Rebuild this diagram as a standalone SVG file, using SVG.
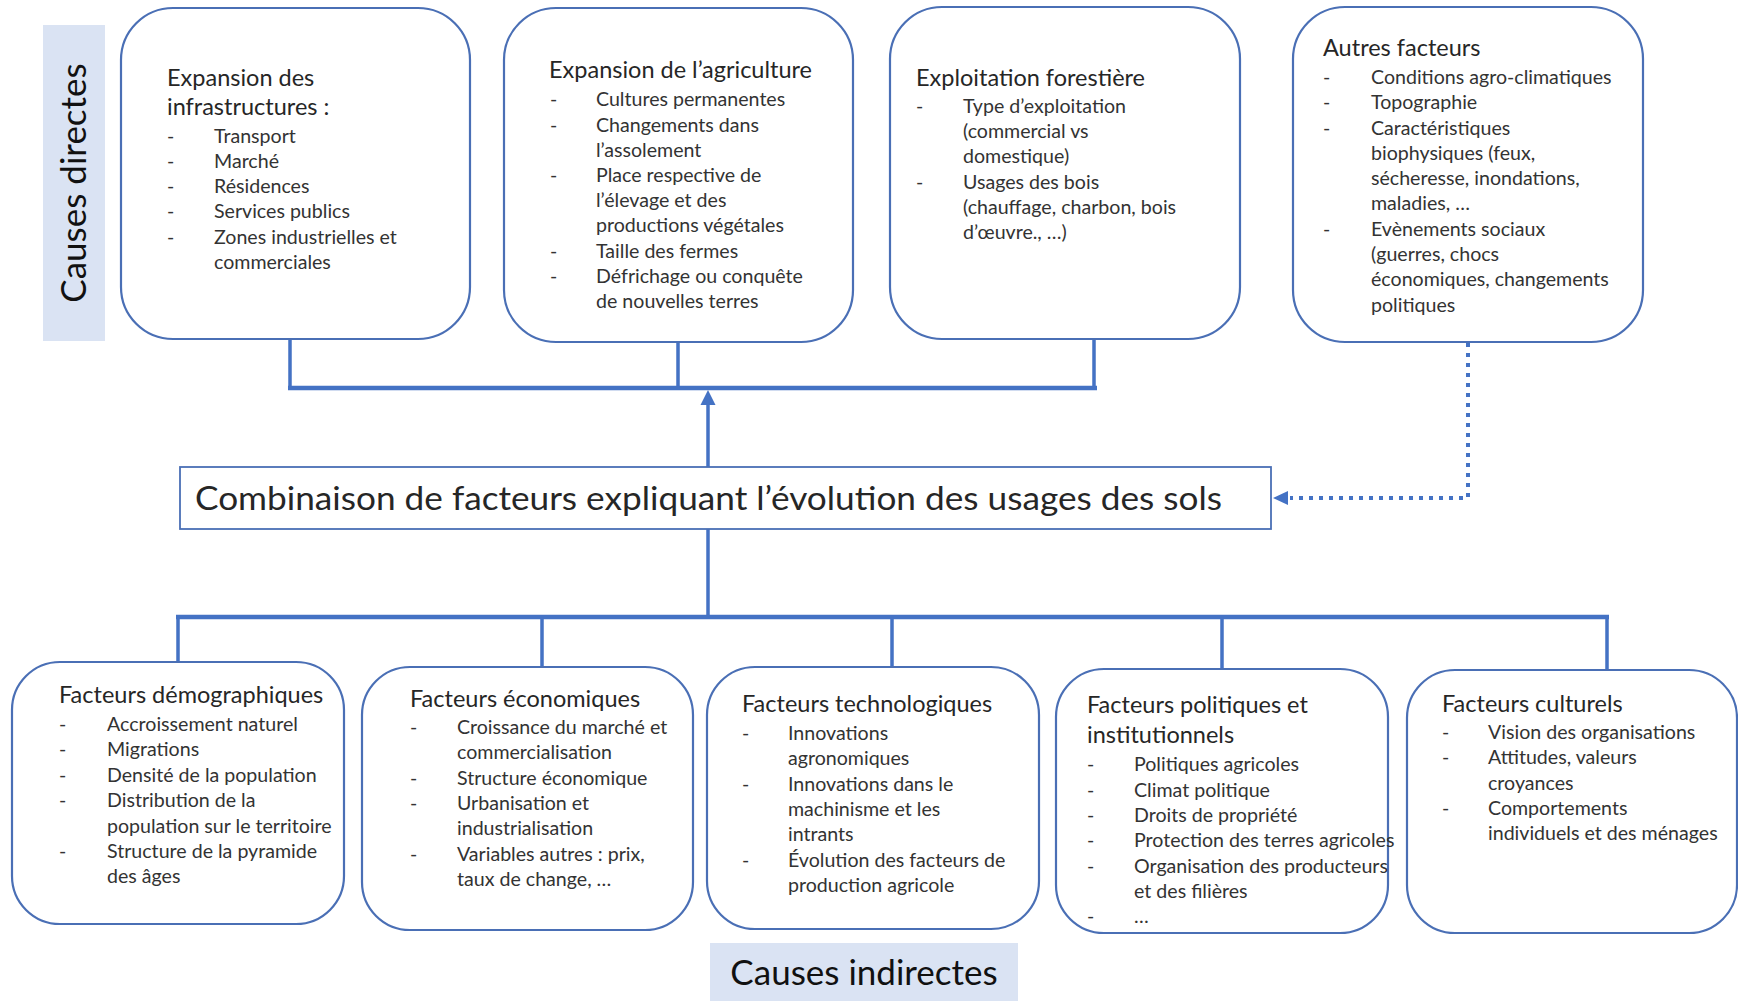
<svg xmlns="http://www.w3.org/2000/svg" width="1738" height="1001" viewBox="0 0 1738 1001">
<defs>
<style>
.box{fill:#fff;stroke:#4a6fb5;stroke-width:2.2}
.lbl{fill:#dae3f3}
.t{font-family:Lato,"Open Sans","Liberation Sans",sans-serif;fill:#262626}
.h{font-size:23.5px}
.b{font-size:19.6px;fill:#333}
.big{font-size:35px;fill:#111}
.con{stroke:#4472c4;fill:none}
</style>
</defs>
<rect width="1738" height="1001" fill="#fff"/>

<g id="connectors">
<path class="con" stroke-width="3.5" d="M290,340 V388 M678,342 V388 M1094,340 V388"/>
<path class="con" stroke-width="4.5" d="M288,388 H1097"/>
<line class="con" x1="708" y1="467" x2="708" y2="405" stroke-width="3.5"/>
<path d="M708,390 L700.5,405 L715.5,405 z" fill="#4472c4"/>
<path class="con" stroke-width="3.5" d="M708,529 V617"/>
<path class="con" stroke-width="4.5" d="M176,617 H1609"/>
<path class="con" stroke-width="3.5" d="M178,617 V662 M542,617 V667 M892,617 V667 M1222,617 V669 M1607,617 V670"/>
<path class="con" stroke-width="4" stroke-dasharray="4 6" d="M1468,343 V498 H1290"/>
<path d="M1273,498 L1288,491 L1288,505 z" fill="#4472c4"/>
</g>

<g id="label-directes">
<rect class="lbl" x="43" y="25" width="62" height="316"/>
<text class="t big" transform="translate(86,183) rotate(-90)" text-anchor="middle">Causes directes</text>
</g>

<g id="label-indirectes">
<rect class="lbl" x="710" y="943" width="308" height="58"/>
<text class="t big" x="864" y="985" text-anchor="middle">Causes indirectes</text>
</g>

<g id="node-infra">
<rect class="box" x="121" y="8" width="349" height="331" rx="52"/>
<text class="t h" x="167" y="86">Expansion des</text>
<text class="t h" x="167" y="115">infrastructures :</text>
<g class="t b">
<text x="167" y="143">-</text><text x="214" y="143">Transport</text>
<text x="167" y="168">-</text><text x="214" y="168">Marché</text>
<text x="167" y="193">-</text><text x="214" y="193">Résidences</text>
<text x="167" y="218">-</text><text x="214" y="218">Services publics</text>
<text x="167" y="244">-</text><text x="214" y="244">Zones industrielles et</text>
<text x="214" y="269">commerciales</text>
</g>
</g>

<g id="node-agri">
<rect class="box" x="504" y="8" width="349" height="334" rx="52"/>
<text class="t h" x="549" y="78">Expansion de l’agriculture</text>
<g class="t b">
<text x="550" y="106">-</text><text x="596" y="106">Cultures permanentes</text>
<text x="550" y="132">-</text><text x="596" y="132">Changements dans</text>
<text x="596" y="157">l’assolement</text>
<text x="550" y="182">-</text><text x="596" y="182">Place respective de</text>
<text x="596" y="207">l’élevage et des</text>
<text x="596" y="232">productions végétales</text>
<text x="550" y="258">-</text><text x="596" y="258">Taille des fermes</text>
<text x="550" y="283">-</text><text x="596" y="283">Défrichage ou conquête</text>
<text x="596" y="308">de nouvelles terres</text>
</g>
</g>

<g id="node-foret">
<rect class="box" x="890" y="7" width="350" height="332" rx="52"/>
<text class="t h" x="916" y="86">Exploitation forestière</text>
<g class="t b">
<text x="916" y="113">-</text><text x="963" y="113">Type d’exploitation</text>
<text x="963" y="138">(commercial vs</text>
<text x="963" y="163">domestique)</text>
<text x="916" y="189">-</text><text x="963" y="189">Usages des bois</text>
<text x="963" y="214">(chauffage, charbon, bois</text>
<text x="963" y="239">d’œuvre., …)</text>
</g>
</g>

<g id="node-autres">
<rect class="box" x="1293" y="7" width="350" height="335" rx="52"/>
<text class="t h" x="1323" y="56">Autres facteurs</text>
<g class="t b">
<text x="1323" y="84">-</text><text x="1371" y="84">Conditions agro-climatiques</text>
<text x="1323" y="109">-</text><text x="1371" y="109">Topographie</text>
<text x="1323" y="135">-</text><text x="1371" y="135">Caractéristiques</text>
<text x="1371" y="160">biophysiques (feux,</text>
<text x="1371" y="185">sécheresse, inondations,</text>
<text x="1371" y="210">maladies, …</text>
<text x="1323" y="236">-</text><text x="1371" y="236">Evènements sociaux</text>
<text x="1371" y="261">(guerres, chocs</text>
<text x="1371" y="286">économiques, changements</text>
<text x="1371" y="312">politiques</text>
</g>
</g>

<g id="node-combinaison">
<rect x="180" y="467" width="1091" height="62" fill="#fff" stroke="#4a6fb5" stroke-width="1.8"/>
<text class="t" x="195" y="510" font-size="33" fill="#111" textLength="1027" lengthAdjust="spacingAndGlyphs">Combinaison de facteurs expliquant l’évolution des usages des sols</text>
</g>

<g id="node-demo">
<rect class="box" x="12" y="662" width="332" height="262" rx="48"/>
<text class="t h" x="59" y="703">Facteurs démographiques</text>
<g class="t b">
<text x="59" y="731">-</text><text x="107" y="731">Accroissement naturel</text>
<text x="59" y="756">-</text><text x="107" y="756">Migrations</text>
<text x="59" y="782">-</text><text x="107" y="782">Densité de la population</text>
<text x="59" y="807">-</text><text x="107" y="807">Distribution de la</text>
<text x="107" y="833">population sur le territoire</text>
<text x="59" y="858">-</text><text x="107" y="858">Structure de la pyramide</text>
<text x="107" y="883">des âges</text>
</g>
</g>

<g id="node-eco">
<rect class="box" x="362" y="667" width="331" height="263" rx="48"/>
<text class="t h" x="410" y="707">Facteurs économiques</text>
<g class="t b">
<text x="410" y="734">-</text><text x="457" y="734">Croissance du marché et</text>
<text x="457" y="759">commercialisation</text>
<text x="410" y="785">-</text><text x="457" y="785">Structure économique</text>
<text x="410" y="810">-</text><text x="457" y="810">Urbanisation et</text>
<text x="457" y="835">industrialisation</text>
<text x="410" y="861">-</text><text x="457" y="861">Variables autres : prix,</text>
<text x="457" y="886">taux de change, …</text>
</g>
</g>

<g id="node-techno">
<rect class="box" x="707" y="667" width="332" height="262" rx="48"/>
<text class="t h" x="742" y="712">Facteurs technologiques</text>
<g class="t b">
<text x="742" y="740">-</text><text x="788" y="740">Innovations</text>
<text x="788" y="765">agronomiques</text>
<text x="742" y="791">-</text><text x="788" y="791">Innovations dans le</text>
<text x="788" y="816">machinisme et les</text>
<text x="788" y="841">intrants</text>
<text x="742" y="867">-</text><text x="788" y="867">Évolution des facteurs de</text>
<text x="788" y="892">production agricole</text>
</g>
</g>

<g id="node-politique">
<rect class="box" x="1056" y="669" width="332" height="264" rx="48"/>
<text class="t h" x="1087" y="713">Facteurs politiques et</text>
<text class="t h" x="1087" y="743">institutionnels</text>
<g class="t b">
<text x="1087" y="771">-</text><text x="1134" y="771">Politiques agricoles</text>
<text x="1087" y="797">-</text><text x="1134" y="797">Climat politique</text>
<text x="1087" y="822">-</text><text x="1134" y="822">Droits de propriété</text>
<text x="1087" y="847">-</text><text x="1134" y="847">Protection des terres agricoles</text>
<text x="1087" y="873">-</text><text x="1134" y="873">Organisation des producteurs</text>
<text x="1134" y="898">et des filières</text>
<text x="1087" y="923">-</text><text x="1134" y="923">…</text>
</g>
</g>

<g id="node-culture">
<rect class="box" x="1407" y="670" width="330" height="263" rx="48"/>
<text class="t h" x="1442" y="712">Facteurs culturels</text>
<g class="t b">
<text x="1442" y="739">-</text><text x="1488" y="739">Vision des organisations</text>
<text x="1442" y="764">-</text><text x="1488" y="764">Attitudes, valeurs</text>
<text x="1488" y="790">croyances</text>
<text x="1442" y="815">-</text><text x="1488" y="815">Comportements</text>
<text x="1488" y="840">individuels et des ménages</text>
</g>
</g>
</svg>
